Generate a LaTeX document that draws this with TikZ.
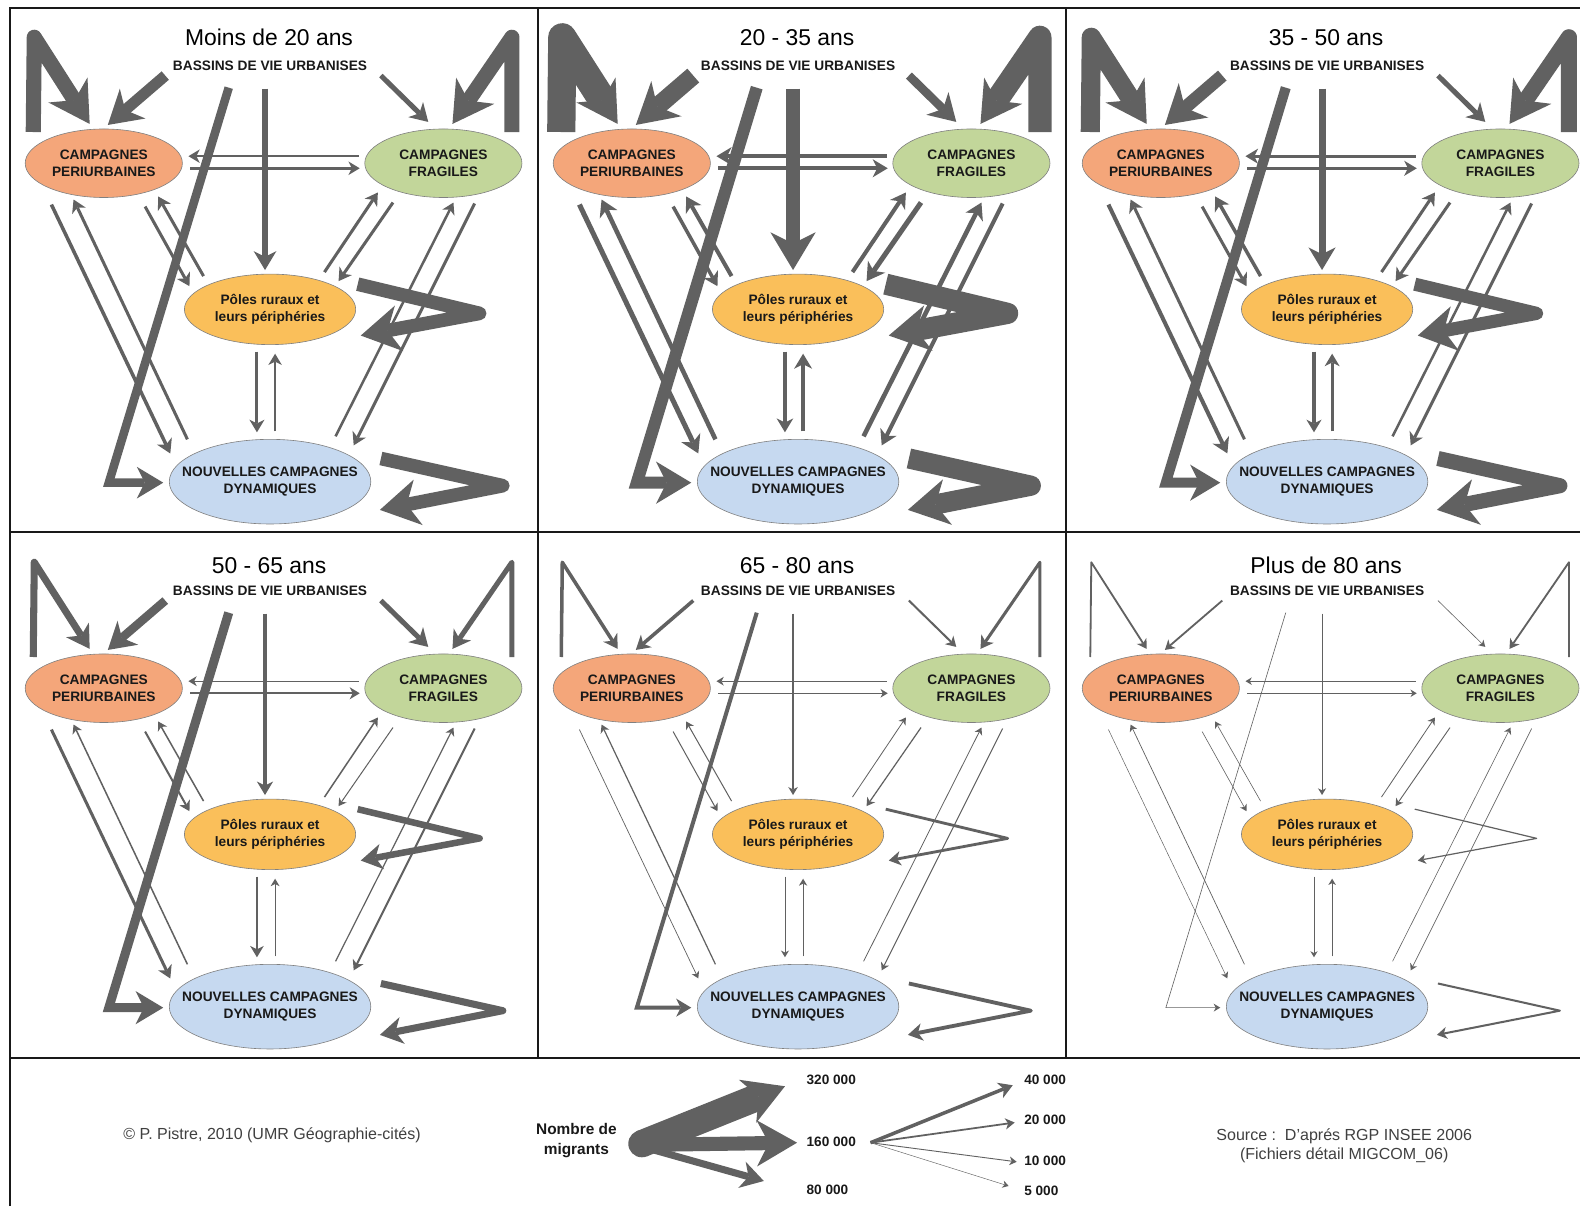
\documentclass[tikz,border=0pt]{standalone}
\usepackage{fontspec}
\setmainfont{Liberation Sans}
\usetikzlibrary{arrows.meta,shapes.geometric}

\definecolor{fluxgris}{RGB}{97,97,97}
\definecolor{periC}{RGB}{244,166,122}
\definecolor{fragC}{RGB}{194,214,154}
\definecolor{polesC}{RGB}{250,191,90}
\definecolor{ncdC}{RGB}{198,217,240}
\definecolor{texte}{RGB}{25,25,25}

\tikzset{
  zone/.style={ellipse, draw=black!50, line width=0.6pt, inner sep=0pt},
  zonetexte/.style={align=center, text=texte, inner sep=0pt,
    font=\fontsize{13.6}{17}\selectfont\bfseries},
  titre/.style={text=black, font=\fontsize{22.7}{26}\selectfont},
  bassin/.style={text=texte, font=\fontsize{13.6}{16}\selectfont\bfseries},
  legende/.style={text=black!75, align=center, font=\fontsize{15.9}{19}\selectfont},
  valeur/.style={anchor=west, text=texte, font=\fontsize{13.5}{15}\selectfont\bfseries},
  cadre/.style={draw=black!90, line width=1.8pt},
  flux/.code={%
    \pgfmathsetmacro\lw{#1}%
    \pgfmathsetmacro\hl{min(5+2.5*\lw,40)}%
    \pgfmathsetmacro\hw{min(6+3*\lw,46)}%
    \pgfmathsetmacro\hi{0.3*\hl}%
    \edef\fluxopts{\noexpand\tikzset{draw=fluxgris, line width=\lw pt,
      -{Stealth[length=\hl pt, width=\hw pt, inset=\hi pt, line width=0pt]}}}%
    \fluxopts},
  boucle/.style={flux=#1, line join=round},
}

% un panneau : decalage x, decalage y, titre, epaisseurs des 20 flux
\newcommand\panneau[4]{%
\begin{scope}[shift={(#1,#2)}]
  \def\W{{#4}}
  % titres et zones
  \node[titre] (titre) at (267,{37+0.006*#2}) {#3};
  \node[bassin] (bv) at (268,65) {BASSINS DE VIE URBANISES};
  \node[zone, fill=periC, minimum width=156pt, minimum height=68pt] (peri) at (103,162) {};
  \node[zone, fill=fragC, minimum width=156pt, minimum height=68pt] (frag) at (440,162) {};
  \node[zone, fill=polesC, minimum width=170pt, minimum height=70pt] (poles) at (268,307) {};
  \node[zone, fill=ncdC, minimum width=200pt, minimum height=84pt] (ncd) at (268,478) {};
  \node[zonetexte] (periT) at (peri) {CAMPAGNES\\PERIURBAINES};
  \node[zonetexte] (fragT) at (frag) {CAMPAGNES\\FRAGILES};
  \node[zonetexte] (polesT) at (poles) {Pôles ruraux et\\leurs périphéries};
  \node[zonetexte] (ncdT) at (ncd) {NOUVELLES CAMPAGNES\\DYNAMIQUES};
  % points d'attache
  \coordinate (lpb) at (33,131);  \coordinate (lph) at (34,37);   \coordinate (lpt) at (89,123);
  \coordinate (bvp) at (164,75);  \coordinate (bvpt) at (107,124);
  \coordinate (bvn) at (227,87);  \coordinate (bvnc) at (108,479); \coordinate (bvnt) at (162,479);
  \coordinate (bvr) at (263,88);  \coordinate (bvrt) at (263,268);
  \coordinate (bvf) at (378,75);  \coordinate (bvft) at (425,121);
  \coordinate (lfb) at (508,131); \coordinate (lfh) at (508,37);  \coordinate (lft) at (449,123);
  \coordinate (fp) at (356,155);  \coordinate (fpt) at (187,155);
  \coordinate (pf) at (189,167);  \coordinate (pft) at (357,167);
  \coordinate (pn) at (51,203);   \coordinate (pnt) at (169,450);
  \coordinate (np) at (186,436);  \coordinate (npt) at (73,198);
  \coordinate (pr) at (144,205);  \coordinate (prt) at (188,284);
  \coordinate (rp) at (202,274);  \coordinate (rpt) at (157,195);
  \coordinate (rf) at (322,270);  \coordinate (rft) at (375,191);
  \coordinate (fr) at (390,201);  \coordinate (frt) at (336,279);
  \coordinate (rn) at (255,349);  \coordinate (rnt) at (255,429);
  \coordinate (nr) at (273,428);  \coordinate (nrt) at (273,351);
  \coordinate (nf) at (333,433);  \coordinate (nft) at (450,201);
  \coordinate (fn) at (471,202);  \coordinate (fnt) at (351,442);
  \coordinate (lrs) at (355,282); \coordinate (lrh) at (476,311); \coordinate (lrt) at (358,333);
  \coordinate (lns) at (378,455); \coordinate (lnh) at (499,482); \coordinate (lnt) at (377,506);
  % flux
  \draw[boucle={\W[0]}] (lpb) -- (lph) -- (lpt);
  \draw[flux={\W[1]}] (bvp) -- (bvpt);
  \draw[flux={\W[2]}] (bvn) -- (bvnc) -- (bvnt);
  \draw[flux={\W[3]}] (bvr) -- (bvrt);
  \draw[flux={\W[4]}] (bvf) -- (bvft);
  \draw[boucle={\W[5]}] (lfb) -- (lfh) -- (lft);
  \draw[flux={\W[6]}] (fp) -- (fpt);
  \draw[flux={\W[7]}] (pf) -- (pft);
  \draw[flux={\W[8]}] (pn) -- (pnt);
  \draw[flux={\W[9]}] (np) -- (npt);
  \draw[flux={\W[10]}] (pr) -- (prt);
  \draw[flux={\W[11]}] (rp) -- (rpt);
  \draw[flux={\W[12]}] (rf) -- (rft);
  \draw[flux={\W[13]}] (fr) -- (frt);
  \draw[flux={\W[14]}] (rn) -- (rnt);
  \draw[flux={\W[15]}] (nr) -- (nrt);
  \draw[flux={\W[16]}] (nf) -- (nft);
  \draw[flux={\W[17]}] (fn) -- (fnt);
  \draw[boucle={\W[18]}] (lrs) -- (lrh) -- (lrt);
  \draw[boucle={\W[19]}] (lns) -- (lnh) -- (lnt);
\end{scope}}

\begin{document}
\begin{tikzpicture}[x=1pt, y=-1pt]
  \useasboundingbox (0,0) rectangle (1568,1197);
  \fill[white] (0,0) rectangle (1568,1197);

  \panneau{0}{0}{Moins de 20 ans}{15,11,8.5,5.5,5,15,2.5,2.5,3.5,3,3,3,3,3,3,2.5,2.5,3,13.5,13.5}
  \panneau{524}{0}{20 - 35 ans}{28,18,12,13,8.5,23,4,4,5,4.5,3.5,4,4,5,3.5,4,4.5,4,21,20}
  \panneau{1049}{0}{35 - 50 ans}{19,13,10,7,5,16,3,3,4,3,3,3.5,3,3,3,3,2.5,3,13,15}
  \panneau{0}{521}{50 - 65 ans}{7,8.5,9,3.4,5,5,1.3,2,3,1.5,2,1.5,1.5,1,2.5,1,1.2,2,6.5,7}
  \panneau{524}{521}{65 - 80 ans}{3.5,3.5,4,1.2,2,3,0.9,0.9,0.7,1.2,1,1,0.8,1.2,0.7,0.8,0.8,1,2.8,3.8}
  \panneau{1049}{521}{Plus de 80 ans}{1.8,1.8,0.6,0.7,0.6,1.8,0.5,0.5,0.5,0.7,0.6,0.6,0.8,0.9,0.4,0.5,0.6,0.6,1.2,2}

  % legende
  \node[legende] (auteur) at (270,1127) {© P. Pistre, 2010 (UMR Géographie-cités)};
  \node[bassin, align=center, font=\fontsize{15.3}{20}\selectfont\bfseries] (nombre) at (572,1132) {Nombre de\\migrants};
  \coordinate (lo) at (637,1135);
  \coordinate (lo2) at (652,1136); \coordinate (lo3) at (648,1141);
  \coordinate (lg1) at (779,1078); \coordinate (lg2) at (791,1134); \coordinate (lg3) at (758,1172);
  \fill[fluxgris] (lo) circle (13.5);
  \draw[flux=27] (lo) -- (lg1);
  \draw[flux=14] (lo2) -- (lg2);
  \draw[flux=7] (lo3) -- (lg3);
  \node[valeur] (v320) at (797,1072) {320 000};
  \node[valeur] (v160) at (797,1133) {160 000};
  \node[valeur] (v80) at (797,1181) {80 000};
  \coordinate (so) at (864,1134);
  \coordinate (sg1) at (1005,1077); \coordinate (sg2) at (1007,1114);
  \coordinate (sg3) at (1009,1153); \coordinate (sg4) at (1001,1177);
  \draw[flux=3.5] (so) -- (sg1);
  \draw[flux=1.75] (so) -- (sg2);
  \draw[flux=0.9] (so) -- (sg3);
  \draw[flux=0.45] (so) -- (sg4);
  \node[valeur] (v40) at (1013,1072) {40 000};
  \node[valeur] (v20) at (1013,1111) {20 000};
  \node[valeur] (v10) at (1013,1152) {10 000};
  \node[valeur] (v5) at (1013,1182) {5 000};
  \node[legende] (source) at (1334,1137) {Source :\ \ D'aprés RGP INSEE 2006\\(Fichiers détail MIGCOM\_06)};

  % cadre
  \draw[cadre] (10,1197) -- (10,8) -- (1568,8);
  \draw[cadre] (534,8) -- (534,1050);
  \draw[cadre] (1058,8) -- (1058,1050);
  \draw[cadre] (10,528) -- (1568,528);
  \draw[cadre] (10,1050) -- (1568,1050);
\end{tikzpicture}
\end{document}
